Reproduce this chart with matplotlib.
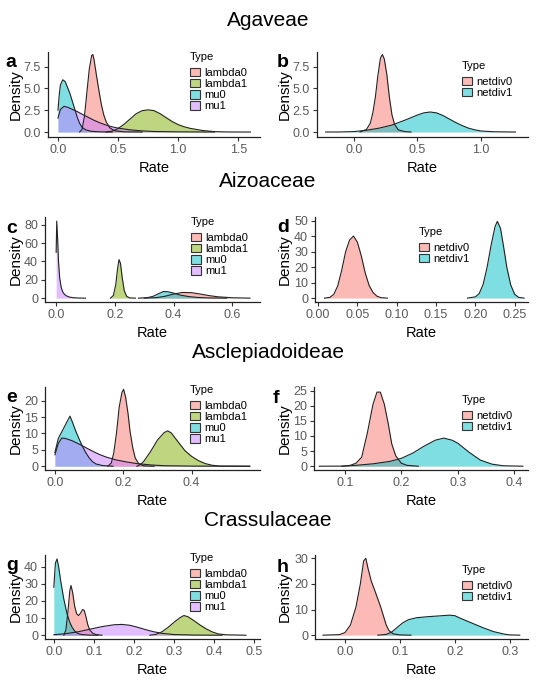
import matplotlib
matplotlib.use("Agg")
import matplotlib.pyplot as plt
from matplotlib.patches import Patch
from matplotlib.colors import to_rgba

plt.rcParams['font.family'] = ['Liberation Sans', 'DejaVu Sans']

W, H = 537, 680

# ggplot default hues
four_colors = ['#F8766D', '#7CAE00', '#00BFC4', '#C77CFF']
two_colors = ['#F8766D', '#00BFC4']
four_labels = ['lambda0', 'lambda1', 'mu0', 'mu1']
two_labels = ['netdiv0', 'netdiv1']

section_titles = ['Agaveae', 'Aizoaceae', 'Asclepiadoideae', 'Crassulaceae']

# ---- panel a (Agaveae, rates) ----
a_lambda0_x = [0.18, 0.20, 0.22, 0.24, 0.26, 0.28, 0.29, 0.30, 0.32, 0.34, 0.36, 0.38, 0.40, 0.43, 0.47, 0.55, 0.70]
a_lambda0_y = [0, 0.3, 1.8, 4.5, 7.2, 8.8, 8.9, 8.3, 6.5, 4.8, 3.2, 2.0, 1.2, 0.5, 0.15, 0.02, 0]
a_lambda1_x = [0.40, 0.45, 0.50, 0.55, 0.60, 0.65, 0.70, 0.75, 0.80, 0.85, 0.90, 0.95, 1.00, 1.05, 1.10, 1.20, 1.30, 1.40, 1.60]
a_lambda1_y = [0, 0.1, 0.4, 0.9, 1.5, 2.1, 2.45, 2.55, 2.45, 2.1, 1.65, 1.2, 0.85, 0.6, 0.42, 0.18, 0.05, 0.01, 0]
a_mu0_x = [0.0, 0.01, 0.02, 0.04, 0.06, 0.08, 0.10, 0.12, 0.14, 0.16, 0.18, 0.20, 0.23, 0.28, 0.35, 0.45]
a_mu0_y = [2.5, 4.2, 5.4, 6.0, 5.8, 5.1, 4.4, 3.5, 2.6, 1.7, 1.0, 0.55, 0.25, 0.08, 0.02, 0]
a_mu1_x = [0.0, 0.02, 0.05, 0.08, 0.12, 0.16, 0.20, 0.25, 0.30, 0.35, 0.40, 0.45, 0.50, 0.60, 0.70, 0.80, 1.00, 1.30]
a_mu1_y = [1.6, 2.6, 2.95, 2.85, 2.6, 2.35, 2.05, 1.7, 1.35, 1.05, 0.8, 0.6, 0.45, 0.25, 0.13, 0.06, 0.02, 0]

# ---- panel b (Agaveae, net diversification) ----
b_netdiv0_x = [0.05, 0.10, 0.13, 0.15, 0.17, 0.19, 0.21, 0.225, 0.24, 0.26, 0.28, 0.30, 0.32, 0.35, 0.40, 0.45]
b_netdiv0_y = [0, 0.3, 1.0, 2.2, 4.0, 6.5, 8.5, 8.9, 8.4, 6.6, 4.0, 2.0, 0.9, 0.25, 0.05, 0]
b_netdiv1_x = [-0.22, -0.10, 0.0, 0.10, 0.20, 0.30, 0.40, 0.50, 0.55, 0.60, 0.65, 0.70, 0.75, 0.80, 0.85, 0.90, 0.95, 1.00, 1.10, 1.27]
b_netdiv1_y = [0, 0.01, 0.05, 0.2, 0.45, 0.8, 1.35, 1.95, 2.2, 2.3, 2.2, 1.9, 1.5, 1.1, 0.75, 0.45, 0.25, 0.12, 0.03, 0]

# ---- panel c (Aizoaceae, rates) ----
c_lambda0_x = [0.30, 0.34, 0.37, 0.40, 0.43, 0.46, 0.49, 0.52, 0.55, 0.60, 0.66]
c_lambda0_y = [0, 0.5, 2.0, 4.5, 6.2, 6.0, 4.5, 2.8, 1.5, 0.4, 0]
c_lambda1_x = [0.185, 0.195, 0.203, 0.209, 0.214, 0.219, 0.225, 0.232, 0.24, 0.25, 0.27]
c_lambda1_y = [0, 3, 15, 32, 42, 38, 22, 8, 2, 0.3, 0]
c_mu0_x = [0.28, 0.31, 0.33, 0.35, 0.365, 0.38, 0.40, 0.42, 0.45, 0.48, 0.52, 0.58]
c_mu0_y = [0, 0.5, 2.0, 5.0, 7.2, 7.0, 5.5, 3.5, 1.8, 0.8, 0.2, 0]
c_mu1_x = [0.0, 0.002, 0.005, 0.008, 0.012, 0.017, 0.022, 0.028, 0.035, 0.045, 0.06, 0.08, 0.10]
c_mu1_y = [50, 84, 65, 40, 22, 12, 7, 4.3, 2.5, 1.2, 0.4, 0.1, 0]

# ---- panel d (Aizoaceae, net diversification) ----
d_netdiv0_x = [0.008, 0.015, 0.02, 0.025, 0.03, 0.035, 0.04, 0.045, 0.05, 0.055, 0.06, 0.065, 0.07, 0.075, 0.08, 0.088]
d_netdiv0_y = [0, 0.5, 2.5, 8, 18, 30, 37.5, 40, 36, 27, 16, 8, 3.5, 1.2, 0.3, 0]
d_netdiv1_x = [0.19, 0.20, 0.205, 0.21, 0.215, 0.22, 0.225, 0.228, 0.232, 0.236, 0.24, 0.245, 0.25, 0.255, 0.262]
d_netdiv1_y = [0, 0.8, 3, 9, 20, 34, 46, 49.5, 45, 33, 20, 8.5, 2.5, 0.5, 0]

# ---- panel e (Asclepiadoideae, rates) ----
e_lambda0_x = [0.155, 0.165, 0.172, 0.18, 0.188, 0.196, 0.201, 0.207, 0.214, 0.22, 0.228, 0.235, 0.245, 0.26, 0.29]
e_lambda0_y = [0, 1, 4, 10, 18, 22.5, 23.5, 21, 16, 10.5, 5.5, 2.5, 0.8, 0.1, 0]
e_lambda1_x = [0.24, 0.25, 0.26, 0.27, 0.28, 0.30, 0.32, 0.33, 0.34, 0.36, 0.38, 0.40, 0.42, 0.44, 0.46, 0.48, 0.57]
e_lambda1_y = [0, 0.5, 1.5, 3, 4.5, 8, 10.3, 10.8, 10.2, 7.5, 4.8, 3, 1.7, 0.8, 0.3, 0.05, 0]
e_mu0_x = [0.0, 0.01, 0.02, 0.03, 0.044, 0.05, 0.06, 0.07, 0.08, 0.09, 0.10, 0.11, 0.12, 0.14, 0.17]
e_mu0_y = [4.2, 8.5, 10.5, 12.5, 15.3, 13.8, 11, 8.5, 6.2, 4.2, 2.6, 1.4, 0.7, 0.2, 0]
e_mu1_x = [0.0, 0.01, 0.02, 0.03, 0.05, 0.07, 0.09, 0.11, 0.13, 0.15, 0.18, 0.21, 0.24, 0.28, 0.32, 0.40, 0.57]
e_mu1_y = [3.5, 7.0, 8.6, 8.5, 7.8, 6.8, 5.7, 4.6, 3.6, 2.8, 1.9, 1.3, 0.8, 0.4, 0.15, 0.04, 0]

# ---- panel f (Asclepiadoideae, net diversification) ----
f_netdiv0_x = [0.095, 0.11, 0.12, 0.13, 0.14, 0.15, 0.157, 0.163, 0.17, 0.177, 0.183, 0.19, 0.20, 0.21, 0.23]
f_netdiv0_y = [0, 0.3, 1, 3, 11, 20.5, 24.5, 24.5, 20.5, 14, 7.5, 3.5, 1, 0.3, 0]
f_netdiv1_x = [0.055, 0.10, 0.12, 0.15, 0.18, 0.20, 0.22, 0.24, 0.26, 0.275, 0.29, 0.30, 0.32, 0.34, 0.36, 0.38, 0.415]
f_netdiv1_y = [0, 0.05, 0.3, 0.8, 1.6, 2.6, 4.3, 6.6, 8.6, 9.3, 8.6, 7.6, 4.6, 2.0, 0.7, 0.15, 0]

# ---- panel g (Crassulaceae, rates) ----
g_lambda0_x = [0.025, 0.03, 0.035, 0.04, 0.043, 0.047, 0.052, 0.057, 0.062, 0.067, 0.072, 0.076, 0.08, 0.085, 0.09, 0.097, 0.105, 0.12]
g_lambda0_y = [0, 3, 13, 26, 29, 25, 17, 12.5, 11.5, 13, 15, 14.5, 11, 6, 3, 1.2, 0.4, 0]
g_lambda1_x = [0.24, 0.255, 0.27, 0.285, 0.30, 0.315, 0.325, 0.335, 0.35, 0.365, 0.38, 0.395, 0.41, 0.43, 0.48]
g_lambda1_y = [0, 0.5, 2, 4.5, 7.5, 10.2, 11.5, 10.8, 8.5, 6, 3.8, 2, 0.8, 0.25, 0]
g_mu0_x = [0.0, 0.004, 0.008, 0.012, 0.017, 0.025, 0.033, 0.04, 0.046, 0.052, 0.06, 0.07, 0.09, 0.11]
g_mu0_y = [28, 42, 44.5, 40, 32, 21, 12.5, 7.5, 4.5, 2.5, 1, 0.4, 0.05, 0]
g_mu1_x = [0.0, 0.03, 0.06, 0.09, 0.12, 0.15, 0.17, 0.19, 0.21, 0.23, 0.25, 0.27, 0.30, 0.35, 0.42]
g_mu1_y = [0.3, 0.9, 2, 3.5, 5, 6.1, 6.3, 5.8, 4.6, 3.2, 2, 1.1, 0.4, 0.1, 0]

# ---- panel h (Crassulaceae, net diversification) ----
h_netdiv0_x = [-0.04, -0.01, 0.0, 0.01, 0.02, 0.028, 0.034, 0.038, 0.042, 0.048, 0.055, 0.06, 0.065, 0.07, 0.075, 0.08, 0.088, 0.10, 0.12]
h_netdiv0_y = [0, 0.2, 1, 4, 11, 20, 29, 30, 26, 21, 17, 14, 11, 7.5, 4, 1.8, 0.5, 0.1, 0]
h_netdiv1_x = [0.06, 0.075, 0.085, 0.095, 0.105, 0.115, 0.13, 0.15, 0.17, 0.19, 0.20, 0.21, 0.23, 0.25, 0.27, 0.29, 0.30, 0.318]
h_netdiv1_y = [0, 0.3, 1.2, 3, 4.8, 6, 6.8, 7.2, 7.5, 7.8, 7.6, 6.6, 4.8, 3, 1.4, 0.4, 0.1, 0]


def add_panel(fig, box, series, colors, labels, xlim, ylim, xticks, yticks,
              xfmt, yfmt, letter, letter_xy, legend_xy, ylabel_x):
    left, top, right, bottom = box
    ax = fig.add_axes([left / W, 1 - bottom / H, (right - left) / W, (bottom - top) / H])

    for (xs, ys), col in zip(series, colors):
        ax.fill_between(xs, ys, 0, color=col, alpha=0.5, lw=0)
        ax.plot(xs, ys, color='#222222', lw=0.8)

    ax.set_xlim(*xlim)
    ax.set_ylim(*ylim)
    ax.set_xticks(xticks)
    ax.set_yticks(yticks)
    ax.set_xticklabels([xfmt.format(v) for v in xticks])
    ax.set_yticklabels([yfmt.format(v) for v in yticks])

    for side in ['top', 'right']:
        ax.spines[side].set_visible(False)
    for side in ['left', 'bottom']:
        ax.spines[side].set_linewidth(0.9)
        ax.spines[side].set_color('#222222')
    ax.tick_params(direction='out', length=3, width=0.8, color='#333333',
                   labelsize=9, labelcolor='#5a5a5a', pad=2)

    ax.set_xlabel('Rate', fontsize=10.5, color='black')
    ax.set_ylabel('Density', fontsize=11, color='black')
    # label coords: top edge of "Rate", right edge of rotated "Density"
    ax.xaxis.set_label_coords(0.5, -24 / (bottom - top))
    ax.yaxis.set_label_coords((ylabel_x - left) / (right - left), 0.5)

    handles = [Patch(facecolor=to_rgba(c, 0.5), edgecolor='#333333', lw=0.8) for c in colors]
    leg = ax.legend(handles, labels, title='Type', loc='upper left',
                    bbox_to_anchor=(legend_xy[0] / W, 1 - legend_xy[1] / H),
                    bbox_transform=fig.transFigure, frameon=False,
                    fontsize=8, title_fontsize=8, alignment='left',
                    handlelength=0.9, handleheight=0.8, handletextpad=0.35,
                    labelspacing=0.1, borderpad=0, borderaxespad=0)
    leg._legend_box.sep = 4

    fig.text(letter_xy[0] / W, 1 - letter_xy[1] / H, letter, fontsize=14,
             fontweight='bold', ha='left', va='baseline')
    return ax


fig = plt.figure(figsize=(W / 100, H / 100), dpi=100)

title_y = [20, 182, 352, 521]
for t, y in zip(section_titles, title_y):
    fig.text(268 / W, 1 - y / H, t, fontsize=15, ha='center', va='center')

add_panel(fig, (48, 52, 260, 137),
          [(a_lambda0_x, a_lambda0_y), (a_lambda1_x, a_lambda1_y), (a_mu0_x, a_mu0_y), (a_mu1_x, a_mu1_y)],
          four_colors, four_labels, (-0.083, 1.68), (-0.57, 9.19),
          [0, 0.5, 1.0, 1.5], [0, 2.5, 5.0, 7.5], '{:.1f}', '{:.1f}',
          'a', (5, 67), (190, 52), 23)

add_panel(fig, (317, 52, 528, 137),
          [(b_netdiv0_x, b_netdiv0_y), (b_netdiv1_x, b_netdiv1_y)],
          two_colors, two_labels, (-0.288, 1.368), (-0.57, 9.19),
          [0, 0.5, 1.0], [0, 2.5, 5.0, 7.5], '{:.1f}', '{:.1f}',
          'b', (277, 67), (462, 61), 292)

add_panel(fig, (45, 217, 260, 302),
          [(c_lambda0_x, c_lambda0_y), (c_lambda1_x, c_lambda1_y), (c_mu0_x, c_mu0_y), (c_mu1_x, c_mu1_y)],
          four_colors, four_labels, (-0.038, 0.694), (-4.2, 88.5),
          [0, 0.2, 0.4, 0.6], [0, 20, 40, 60, 80], '{:.1f}', '{:.0f}',
          'c', (6, 233), (191, 217), 23)

add_panel(fig, (315, 217, 528, 302),
          [(d_netdiv0_x, d_netdiv0_y), (d_netdiv1_x, d_netdiv1_y)],
          two_colors, two_labels, (-0.004, 0.267), (-2.5, 52.3),
          [0, 0.05, 0.10, 0.15, 0.20, 0.25], [0, 10, 20, 30, 40, 50], '{:.2f}', '{:.0f}',
          'd', (277, 232), (419, 227), 292)

add_panel(fig, (45, 387, 260, 470),
          [(e_lambda0_x, e_lambda0_y), (e_lambda1_x, e_lambda1_y), (e_mu0_x, e_mu0_y), (e_mu1_x, e_mu1_y)],
          four_colors, four_labels, (-0.029, 0.6), (-1.15, 24.2),
          [0, 0.2, 0.4], [0, 5, 10, 15, 20], '{:.1f}', '{:.0f}',
          'e', (6, 402), (190, 385), 23)

add_panel(fig, (314, 387, 528, 470),
          [(f_netdiv0_x, f_netdiv0_y), (f_netdiv1_x, f_netdiv1_y)],
          two_colors, two_labels, (0.0457, 0.424), (-1.25, 26.2),
          [0.1, 0.2, 0.3, 0.4], [0, 5, 10, 15, 20, 25], '{:.1f}', '{:.0f}',
          'f', (273, 403), (462, 395), 292)

add_panel(fig, (45, 555, 260, 639),
          [(g_lambda0_x, g_lambda0_y), (g_lambda1_x, g_lambda1_y), (g_mu0_x, g_mu0_y), (g_mu1_x, g_mu1_y)],
          four_colors, four_labels, (-0.022, 0.515), (-2.2, 46.8),
          [0, 0.1, 0.2, 0.3, 0.4, 0.5], [0, 10, 20, 30, 40], '{:.1f}', '{:.0f}',
          'g', (6, 570), (190, 553), 23)

add_panel(fig, (315, 555, 528, 639),
          [(h_netdiv0_x, h_netdiv0_y), (h_netdiv1_x, h_netdiv1_y)],
          two_colors, two_labels, (-0.0545, 0.333), (-1.5, 31.3),
          [0, 0.1, 0.2, 0.3], [0, 10, 20, 30], '{:.1f}', '{:.0f}',
          'h', (277, 572), (462, 565), 292)

fig.savefig('out.png', dpi=100)
